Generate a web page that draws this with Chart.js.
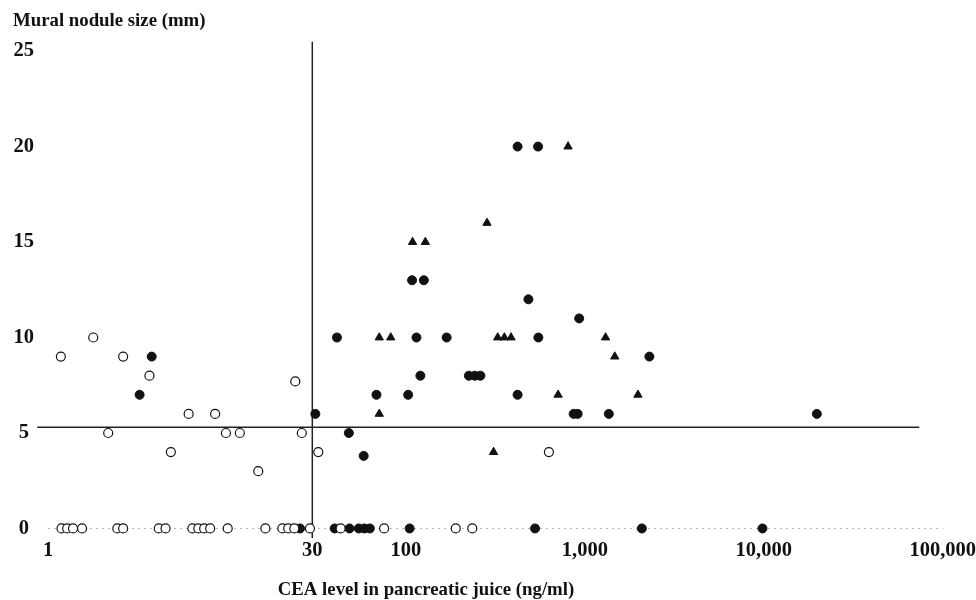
<!DOCTYPE html>
<html>
<head>
<meta charset="utf-8">
<script src="https://cdn.jsdelivr.net/npm/chart.js@4/dist/chart.umd.min.js"></script>
<style>
  body { margin: 0; background: #fff; }
  #wrap { width: 976px; height: 600px; }
</style>
</head>
<body>
<div id="wrap"><canvas id="myChart"></canvas></div>
<script>
// CEA level (ng/ml) vs mural nodule size (mm)
const openX = [1.18, 1.79, 2.63, 3.69, 2.17, 6.11, 8.59, 4.86, 9.87, 11.8, 14.96, 24.1, 26.2, 32.4, 630,
    1.19, 1.28, 1.38, 1.55, 2.44, 2.63, 4.16, 4.54, 6.41, 6.92, 7.46, 8.06, 10.1, 16.4, 20.4, 22.0, 23.8, 29.1, 43.2, 75.6, 190, 235];
const openY = [9, 10, 9, 8, 5, 6, 6, 4, 5, 5, 3, 7.7, 5, 4, 4,
    0, 0, 0, 0, 0, 0, 0, 0, 0, 0, 0, 0, 0, 0, 0, 0, 0, 0, 0, 0, 0, 0];

const filledX = [3.80, 3.25, 31.2, 41.2, 114.6, 169, 550, 930, 120.5, 225, 243, 261, 68.5, 103, 421, 866, 912, 1362,
    48.0, 58.1, 421, 548, 108.3, 126, 484, 2295, 19800,
    25.6, 40.0, 48.4, 54.6, 58.6, 62.9, 105, 527, 2084, 9836];
const filledY = [9, 7, 6, 10, 10, 10, 10, 11, 8, 8, 8, 8, 7, 7, 7, 6, 6, 6,
    5, 3.8, 20, 20, 13, 13, 12, 9, 6,
    0, 0, 0, 0, 0, 0, 0, 0, 0, 0];

const triX = [71, 82.3, 326, 355, 387, 1306, 1470, 709, 1981, 71, 309, 806, 284, 109, 128.5];
const triY = [10, 10, 10, 10, 10, 10, 9, 7, 7, 6, 4, 20, 16, 15, 15];

const xTicks = [1, 30, 100, 1000, 10000, 100000];
const yTicks = [0, 5, 10, 15, 20, 25];
const yRange = [-0.5, 25.5];

// cut-off lines
const cutoffCEA = 30;
const cutoffSize = 5.3;
const cutoffSizeSpan = [0.87, 74000];

function toPoints(xs, ys) {
    return xs.map((x, i) => ({ x: x, y: ys[i] }));
}

const serif = "'Liberation Serif', 'Times New Roman', serif";
const ink = '#111';

const xTitlePlugin = {
    id: 'xTitle',
    afterDraw(chart) {
        const c = chart.ctx;
        c.save();
        c.font = 'bold 18.8px ' + serif;
        c.fillStyle = ink;
        c.textAlign = 'center';
        c.textBaseline = 'middle';
        c.fillText('CEA level in pancreatic juice (ng/ml)', 426, 590);
        c.restore();
    }
};

document.addEventListener("DOMContentLoaded", function () {
    const ctx = document.getElementById('myChart');

    new Chart(ctx, {
        type: 'scatter',
        data: {
            datasets: [
                {
                    label: 'Open circles',
                    data: toPoints(openX, openY),
                    pointStyle: 'circle',
                    pointRadius: 4.5,
                    backgroundColor: '#fff',
                    borderColor: ink,
                    borderWidth: 1.2
                },
                {
                    label: 'Filled circles',
                    data: toPoints(filledX, filledY),
                    pointStyle: 'circle',
                    pointRadius: 4.5,
                    backgroundColor: ink,
                    borderColor: ink,
                    borderWidth: 1
                },
                {
                    label: 'Triangles',
                    data: toPoints(triX, triY),
                    pointStyle: 'triangle',
                    pointRadius: 4.8,
                    backgroundColor: ink,
                    borderColor: ink,
                    borderWidth: 1
                },
                {
                    label: 'CEA cut-off',
                    data: [{ x: cutoffCEA, y: yRange[0] }, { x: cutoffCEA, y: yRange[1] }],
                    showLine: true,
                    pointRadius: 0,
                    borderColor: '#222',
                    borderWidth: 1.5
                },
                {
                    label: 'Size cut-off',
                    data: [{ x: cutoffSizeSpan[0], y: cutoffSize }, { x: cutoffSizeSpan[1], y: cutoffSize }],
                    showLine: true,
                    pointRadius: 0,
                    borderColor: '#222',
                    borderWidth: 1.5,
                    clip: false
                }
            ]
        },
        options: {
            responsive: true,
            maintainAspectRatio: false,
            animation: false,
            layout: { padding: { left: 13, right: 0, top: 0, bottom: 0 } },
            plugins: {
                legend: { display: false },
                tooltip: { enabled: false },
                title: {
                    display: true,
                    text: 'Mural nodule size (mm)',
                    align: 'start',
                    color: ink,
                    font: { family: serif, size: 18.8, weight: 'bold' },
                    padding: { top: 10, bottom: 9 }
                }
            },
            scales: {
                x: {
                    type: 'logarithmic',
                    min: 1,
                    max: 100000,
                    afterBuildTicks: (scale) => {
                        scale.ticks = xTicks.map(v => ({ value: v }));
                    },
                    afterFit: (scale) => {
                        scale.height = 62;
                    },
                    ticks: {
                        autoSkip: false,
                        maxRotation: 0,
                        padding: 0,
                        color: ink,
                        font: { family: serif, size: 20.5, weight: 'bold' },
                        callback: (value) => Number(value).toLocaleString('en-US')
                    },
                    grid: { display: false, drawTicks: false },
                    border: { display: false }
                },
                y: {
                    min: yRange[0],
                    max: yRange[1],
                    afterBuildTicks: (scale) => {
                        scale.ticks = yTicks.map(v => ({ value: v }));
                    },
                    afterFit: (scale) => {
                        scale.width = 35;
                    },
                    ticks: {
                        padding: 14,
                        crossAlign: 'center',
                        color: ink,
                        font: { family: serif, size: 20.5, weight: 'bold' }
                    },
                    grid: {
                        drawTicks: false,
                        color: (c) => (c.tick && c.tick.value === 0 ? '#b8b8b8' : 'rgba(0,0,0,0)'),
                        lineWidth: 1
                    },
                    border: { display: false, dash: [2, 4] }
                }
            }
        },
        plugins: [xTitlePlugin]
    });
});
</script>
</body>
</html>
